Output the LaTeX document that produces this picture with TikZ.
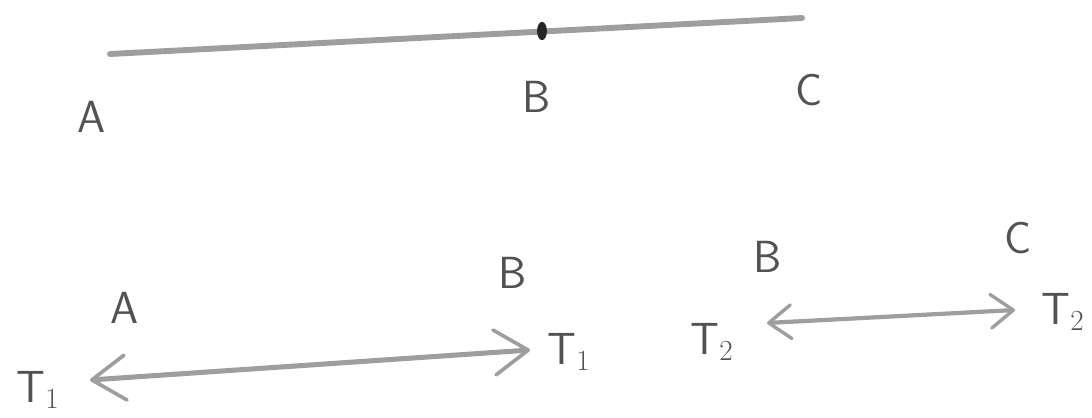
\documentclass[tikz,border=0pt]{standalone}
\usetikzlibrary{arrows.meta,shapes.geometric}
\tikzset{
  bigtip/.tip={Straight Barb[length=24pt,width=32pt,line width=2.6pt,round]},
  smalltip/.tip={Straight Barb[length=16pt,width=24pt,line width=2.4pt,round]}
}
\begin{document}
\begin{tikzpicture}[x=0.025cm,y=-0.025cm,
  pencil/.style={draw=black!38, line width=3.6pt, line cap=round},
  lbl/.style={text=black!68, font=\sffamily\fontsize{32}{38}\selectfont, inner sep=0pt}]
\useasboundingbox (0,0) rectangle (1092,417);
% top segment
\coordinate (lineL) at (110,54);
\coordinate (lineR) at (802,18);
\draw[pencil, line width=4.2pt] (lineL) -- (lineR);
\node[ellipse, fill=black!85, minimum width=7pt, minimum height=13pt, inner sep=0pt] (dot) at (542,31) {};
% top labels
\node[lbl] (A1) at (92,117) {A};
\node[lbl] (B1) at (537,97) {B};
\node[lbl] (C1) at (809,90) {C};
% bottom left
\node[lbl] (A2) at (125,308) {A};
\node[lbl] (B2) at (513,273) {B};
\node[lbl] (T1L) at (38,390) {T$_1$};
\node[lbl] (T1R) at (569,352) {T$_1$};
\coordinate (a1) at (90,380);
\coordinate (a2) at (530,350);
\draw[pencil, bigtip-bigtip] (a1) -- (a2);
% bottom right
\node[lbl] (B3) at (768,257) {B};
\node[lbl] (C3) at (1018,238) {C};
\node[lbl] (T2L) at (712,342) {T$_2$};
\node[lbl] (T2R) at (1063,312) {T$_2$};
\coordinate (b1) at (767,323);
\coordinate (b2) at (1015,310);
\draw[pencil, line width=3pt, smalltip-smalltip] (b1) -- (b2);
\end{tikzpicture}
\end{document}
